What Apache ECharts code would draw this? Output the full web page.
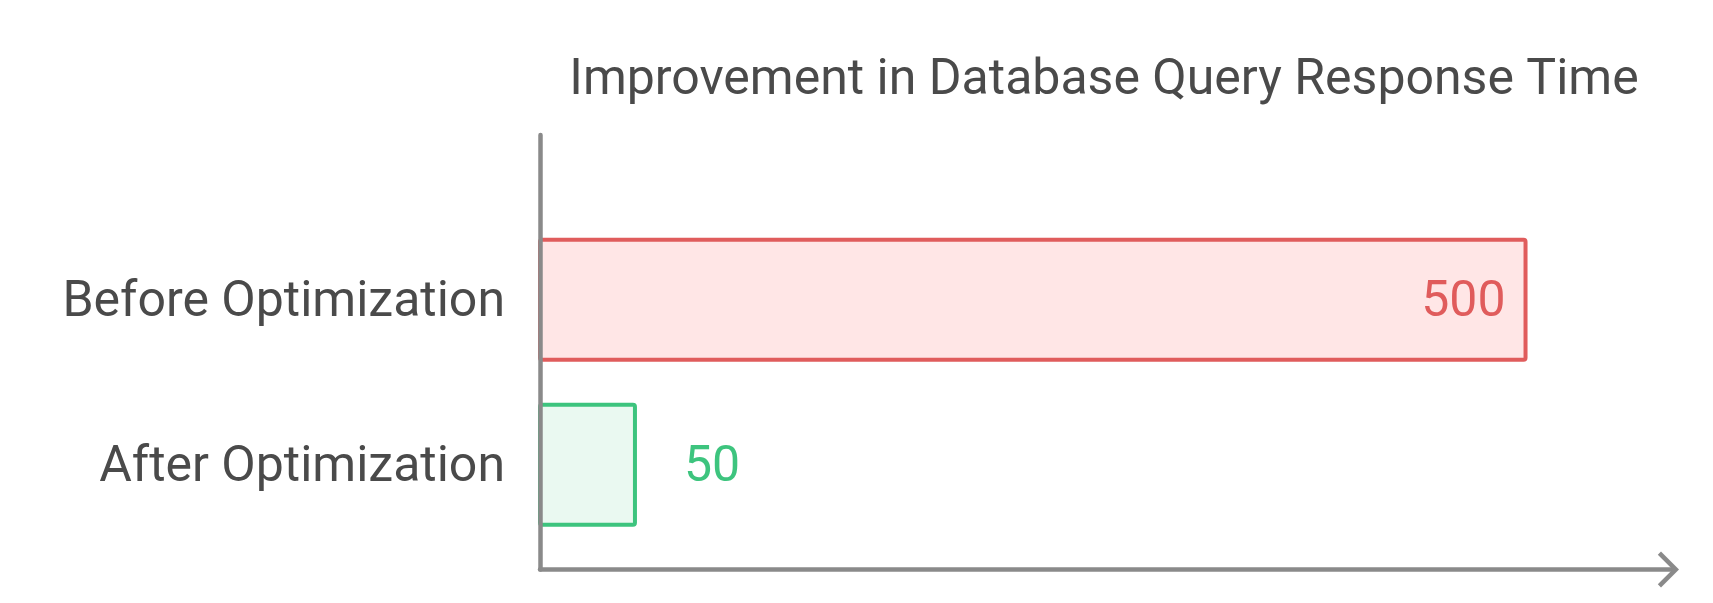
<!DOCTYPE html>
<html>
<head>
<meta charset="utf-8">
<script src="https://cdn.jsdelivr.net/npm/echarts@6/dist/echarts.min.js"></script>
<style>
html,body{margin:0;padding:0;background:#fff;}
#chart{width:1713px;height:603px;}
</style>
</head>
<body>
<div id="chart"></div>
<script>
const titleText = 'Improvement in Database Query Response Time';
const categories = ['After Optimization', 'Before Optimization'];
const responseTimes = [50, 500];
const borderColors = ['#3DC47E', '#E05C5C'];
const fillColors = ['#EAF9F1', '#FFE6E6'];
const axisMin = 0;
const axisMax = 573;

const chevron = 'path://M18,0 L36,18 L32.8,21.2 L18,6.4 L3.2,21.2 L0,18 Z';
const font = 'Roboto';

const chart = echarts.init(document.getElementById('chart'), null, {renderer: 'canvas'});
chart.setOption({
  animation: false,
  backgroundColor: '#ffffff',
  title: {
    text: titleText,
    left: 1099,
    textAlign: 'center',
    top: 51,
    textStyle: {fontFamily: font, fontSize: 50, fontWeight: 'normal', color: '#4a4a4a'}
  },
  grid: [
    {left: 540, right: 41, top: 135, bottom: 33.5, containLabel: false},
    {left: 538, right: 41, top: 217.2, bottom: 55.8, containLabel: false}
  ],
  xAxis: [
    {
      type: 'value', gridIndex: 0, min: axisMin, max: axisMax, z: 10,
      axisLine: {show: true, lineStyle: {color: '#8a8a8a', width: 4.5, cap: 'round'},
        symbol: ['none', chevron], symbolSize: [36, 21.2], symbolOffset: [0, -3.6]},
      axisTick: {show: false}, axisLabel: {show: false}, splitLine: {show: false}
    },
    {
      type: 'value', gridIndex: 1, min: axisMin, max: axisMax, show: false
    }
  ],
  yAxis: [
    {
      type: 'category', gridIndex: 0, data: categories, z: 10,
      axisLine: {show: true, lineStyle: {color: '#8a8a8a', width: 4.5, cap: 'round'}},
      axisTick: {show: false}, axisLabel: {show: false}, splitLine: {show: false}
    },
    {
      type: 'category', gridIndex: 1, data: categories,
      axisLine: {show: false}, axisTick: {show: false}, splitLine: {show: false},
      axisLabel: {show: true, margin: 33, verticalAlign: 'top', lineHeight: 8,
        fontFamily: font, fontSize: 50, color: '#4a4a4a'}
    }
  ],
  series: [{
    type: 'bar',
    xAxisIndex: 1, yAxisIndex: 1,
    barWidth: 124,
    data: responseTimes.map((v, i) => ({
      value: v,
      itemStyle: {color: fillColors[i], borderColor: borderColors[i], borderWidth: 4, borderRadius: 2},
      label: i === 1
        ? {show: true, position: 'insideRight', distance: 22, offset: [0, 4], color: borderColors[i], fontFamily: font, fontSize: 50}
        : {show: true, position: 'right', distance: 47, offset: [0, 4], color: borderColors[i], fontFamily: font, fontSize: 50}
    }))
  }]
});
</script>
</body>
</html>
